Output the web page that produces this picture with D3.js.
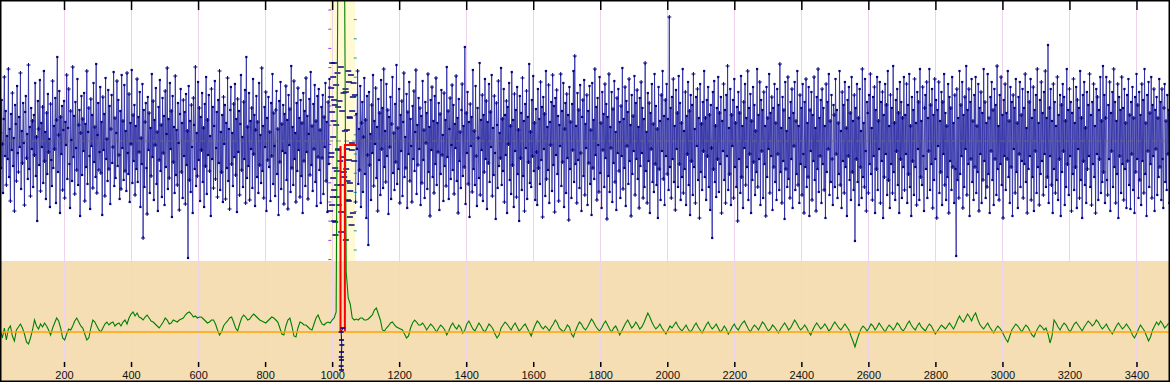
<!DOCTYPE html>
<html><head><meta charset="utf-8">
<script src="https://cdn.jsdelivr.net/npm/d3@7"></script>
<style>html,body{margin:0;padding:0;background:#fff;overflow:hidden}</style>
</head><body><svg id="c" width="1170" height="382"></svg>
<script>
// ---- data ----
const blueStart = 10, blueStep = 2;
const blueValues = [
8,-27,41,-3,-52,22,64,-15,30,-44,5,-18,72,-36,12,-60,27,-9,48,-25,3,-70,36,17,-40,
55,-12,-31,24,-6,68,-48,10,-22,38,-2,-64,29,45,-17,7,-38,76,-28,14,-55,33,-8,20,-46,
26,-14,58,-35,4,-80,40,12,-24,61,-50,18,-6,34,-42,70,-20,9,-58,28,-33,47,-11,2,-66,
37,-19,-45,60,-27,15,-8,43,-62,21,84,-31,6,50,-72,24,-13,35,-49,11,40,-57,19,-4,66,
-38,13,52,-23,-67,30,1,-40,74,-16,25,-53,39,-7,-29,62,-44,16,31,-75,8,45,-34,22,-10,
48,-60,17,-26,70,-43,9,33,-15,-68,42,-5,26,-47,58,-21,14,-36,77,-52,6,38,-29,-11,54,
-32,19,-74,44,-9,27,-55,63,-18,2,-40,51,-28,35,-63,12,46,-22,-6,69,-45,23,-37,8,60,
-25,41,-14,-58,30,-48,66,-7,20,-39,56,-30,10,-50,68,-12,-33,47,-61,18,-3,71,-42,26,-20,
36,-54,15,-28,62,-41,24,-11,49,-66,3,-23,57,-97,31,-46,19,38,-27,-73,44,-9,28,-52,13,
-35,67,-16,40,-59,21,-4,53,-43,9,-70,34,-19,61,-30,16,-56,43,-12,25,-64,50,-26,7,73,
-48,22,-37,58,-8,30,-76,45,-21,14,-52,65,-34,11,-44,38,-2,-69,27,52,-31,18,-57,41,-15,
29,-63,47,-24,10,-117,55,-39,20,-51,36,-6,-72,43,16,-28,74,-45,8,-35,59,-19,33,-60,24,
-9,48,-41,13,-66,37,-25,64,-53,21,-14,46,-30,5,-75,52,-18,34,-47,15,60,-38,-7,29,-56,
41,-22,70,-49,9,-31,26,-61,44,-3,36,-58,18,-27,63,-40,12,-68,31,54,-23,8,-45,37,-16,
57,-34,22,-71,42,-11,30,-54,17,66,-29,4,-46,39,-18,51,-62,84,-37,14,-25,48,-59,20,-8,
33,-47,62,-13,26,-65,11,45,-36,19,-52,58,-24,6,-42,73,-30,15,-57,34,-6,49,-70,23,-19,
44,-26,9,-60,38,-15,67,-43,28,-5,-55,31,50,-33,12,-74,40,-21,59,-48,17,-10,36,-63,27,
-12,55,-39,21,-68,46,-4,32,-51,75,-27,14,-44,60,-18,8,-61,38,-30,53,-9,23,-56,41,-35,
18,-72,48,-20,30,-45,63,-11,25,-58,7,42,-34,69,-24,15,-50,37,-8,56,-41,20,-65,45,-16,
52,-29,11,-62,34,-17,46,-53,24,-6,58,-40,19,-71,39,-23,62,-70,44,-12,78,-56,20,-80,36,
-94,56,-30,68,-8,-64,40,-20,74,-44,30,-16,48,-36,10,52,-28,-8,-40,70,-60,24,-50,66,-84,
30,-72,58,-20,46,-61,27,-8,70,-43,12,-29,55,-66,18,39,-51,4,63,-33,21,-77,45,-14,-104,
49,-24,7,-59,36,-12,66,-45,20,-3,53,-37,14,-70,42,-19,28,-54,61,-8,33,-47,72,-26,10,
-41,57,-15,31,-73,24,-6,44,-58,17,64,-32,8,-49,37,-21,76,-43,13,-28,52,-62,26,-10,40,
-55,19,68,-36,4,-27,47,-67,29,-13,59,-40,22,-5,-61,35,-18,50,-30,9,71,-53,16,-24,43,
-8,33,-64,25,-42,60,-19,11,-57,39,-2,28,-48,67,-31,14,-75,41,-9,54,-36,20,-52,45,-23,
63,-44,18,-11,38,-69,27,-33,51,-14,6,-60,48,-25,21,-45,74,-16,30,-58,12,43,-38,-4,56,
-29,36,-53,17,-7,65,-40,23,-72,42,-20,9,-47,31,57,-35,15,-26,94,-63,28,-12,49,-43,19,
-76,37,-5,24,-51,71,-28,10,-44,55,-15,-65,33,3,-37,78,-54,21,-9,46,-60,26,-31,62,-18,
40,-68,19,-22,57,-41,29,-6,66,-55,13,-34,45,-12,-78,38,16,-47,60,-25,8,-17,73,-44,22,
-30,52,-61,26,-14,40,-72,34,-3,58,-39,15,-53,69,-24,21,-66,47,-10,31,-56,54,-33,11,-80,
45,-17,28,-49,63,-35,20,-70,37,-7,50,-58,24,-21,77,-42,9,-46,41,-15,65,-30,18,-59,32,
-11,-64,52,-27,22,-43,59,-19,34,-76,44,-8,27,-55,70,-38,14,-29,56,-62,19,-4,39,-50,66,
-24,35,-71,43,-14,51,-33,25,-60,16,-5,67,-45,30,-21,58,-66,12,38,-52,47,-17,26,-79,54,
-28,19,-57,37,-9,70,-41,85,-23,15,-62,48,-19,31,-47,56,-12,-70,24,41,-35,61,-54,17,-7,
46,-64,30,-22,55,-43,11,-74,58,-27,21,-38,72,-14,34,-59,43,-4,-51,64,-32,18,-67,49,-9,
27,-46,57,-17,37,-78,24,-35,67,-51,14,-7,49,-61,32,-22,60,-41,9,-69,43,-12,52,-30,19,
-57,35,-15,73,-48,22,-27,54,-65,40,-5,29,-43,62,-20,16,-75,46,-33,25,-10,65,-54,38,-18,
51,-38,14,-67,43,-25,59,-12,33,-57,22,-46,78,-30,9,-62,48,-20,38,-72,28,-8,57,-41,17,
-51,67,-23,35,-44,12,-77,54,-28,20,-59,46,-10,70,-38,25,-64,41,-15,57,-33,22,-49,124,-26,
33,-57,44,-18,62,-41,15,-69,51,-8,28,-46,65,-23,38,-59,18,-36,72,-52,10,-28,49,-64,25,
-13,59,-44,30,-74,46,-20,36,-54,67,-26,12,-62,44,-5,52,-39,23,-77,57,-31,17,-49,39,-10,
70,-36,23,-59,41,-15,54,-46,26,-69,36,-7,-97,49,-28,60,-41,15,-56,33,-18,64,-51,28,-23,
44,-72,20,-10,57,-39,31,-62,46,-15,75,-49,13,-33,52,-64,26,-5,41,-57,62,-26,18,-46,34,
-80,49,-18,28,-52,65,-36,15,-67,39,-7,57,-44,23,-26,70,-59,33,-13,47,-72,20,-39,54,-21,
36,-54,10,-31,72,-46,26,-18,59,-64,41,-10,31,-57,49,-23,15,-75,54,-36,23,-8,67,-52,28,
-15,44,-69,33,-26,57,-41,18,-59,52,-13,36,-49,77,-31,13,-62,44,-20,31,-78,59,-28,10,-46,
64,-38,23,-57,39,-18,52,-67,28,-5,59,-49,20,-33,70,-44,15,-62,46,-23,33,-54,57,-13,-72,
39,-26,62,-46,18,-36,54,-75,31,-10,49,-59,26,-20,64,-39,13,-70,44,-28,72,-51,23,-15,41,
-62,52,-23,33,-49,15,-77,57,-31,39,-8,67,-54,20,-41,46,-18,-64,36,26,-46,62,-13,31,-57,
18,-33,70,-44,10,-67,49,-20,36,-52,59,-26,13,-75,41,-15,54,-39,28,-59,64,-31,20,-49,46,
-100,33,-18,57,-41,23,-64,52,-26,10,-57,72,-36,18,-46,62,-10,-70,39,28,-52,46,-23,67,-33,
13,-59,44,-15,54,-72,31,-28,64,-49,20,-8,59,-62,39,-20,49,-77,26,-36,57,-13,36,-54,70,
-39,15,-67,46,-23,33,-52,75,-31,18,-59,41,-10,52,-44,28,-72,59,-18,39,-57,23,-26,64,-49,
26,-13,57,-62,36,-33,67,-46,15,-75,44,-20,31,-54,62,-26,18,-64,49,-8,39,-59,72,-36,20,
-44,54,-15,-70,33,46,-28,59,-57,23,-10,72,-49,36,-23,52,-67,26,-39,62,-18,41,-77,31,-5,
59,-52,20,-31,49,-64,39,-13,67,-44,28,-59,15,-36,57,-72,44,-20,33,-49,64,-26,18,-62,46,
-28,-115,52,-39,23,-57,70,-33,36,-15,59,-67,26,-46,44,-8,75,-54,31,-23,52,-75,39,-18,62,
-41,20,-59,46,-26,64,-52,15,-31,57,-70,33,-13,49,-62,28,-39,72,-20,39,-57,18,-46,67,-33,
23,-72,44,-10,59,-39,31,-64,52,-18,36,-54,75,-28,15,-59,46,-23,64,-44,26,-77,41,-15,57,
-49,28,-18,70,-36,20,-62,54,-26,39,-75,46,-8,33,-52,62,-31,18,-67,44,-13,59,-46,26,-20,
52,-57,33,-23,67,-41,13,-72,49,-28,39,-15,62,-59,23,-36,54,-70,31,-10,46,-52,72,-26,18,
-64,41,-33,59,-20,28,-54,49,-13,70,-46,23,-36,96,-62,33,-15,52,-44,20,-72,57,-28,39,-52,
15,-39,64,-59,26,-18,46,-75,36,-31,57,-10,44,-64,20,-46,72,-23,31,-54,52,-15,39,-70,28,
-33,62,-49,18,-26,54,-67,41,-8,33,-57,70,-39,23,-77,46,-20,59,-44,13,-62,49,-28,36,-15,
67,-46,26,-64,39,-23,57,-36,15,-72,52,-13,44,-59,31,-18,64,-52,20,-41,75,-31,46,-62,23,
64,-39,-54,36,-18,59,-70,28,-10,49,-46,72,-26,39,-62,20,-33,57,-77,44,-15,31,-52,64,-23,
33,-59,52,-28,18,-67,46,-20,62,-44,26,-68,39,-13,54,-49,23,-72,44,-31,67,-18,36,-57,49,
-39,26,-64,57,-20,41,-52,72,-33,18,-75,46,-10,59,-46,28,-23,64,-57,36,-15,52,-70,31,-8,
44,-54,23,-36,62,-26,39,-59,52,-18,-67,33,57,-41,20,-49,46,-13,31,-62,26,-44,54,-23,39
];
const greenStart = 10, greenStep = 6;
const greenValues = [
2,-6,4,-8,3,6,-4,-9,2,5,8,4,-2,-10,-12,-6,2,12,6,3,
8,5,9,6,2,-3,4,9,14,11,4,-6,-8,-2,3,2,6,11,14,10,
6,4,-2,-8,-6,4,12,10,6,2,0,4,8,10,7,9,10,6,8,9,
6,10,12,8,14,18,20,16,19,15,14,12,15,17,14,11,10,8,6,4,
7,10,14,12,8,9,12,11,10,12,13,14,17,19,20,18,15,16,14,15,
15,13,11,9,10,12,12,8,2,-3,0,6,9,11,14,15,10,4,1,8,
14,17,15,12,13,16,18,16,14,12,11,10,9,11,13,15,14,12,10,4,
-2,-3,6,12,14,6,-4,-5,4,10,9,7,7,5,3,2,8,14,17,12,
8,7,9,10,9,12,14,20,420,420,420,420,60,34,28,14,12,13,12,14,
14,12,12,13,15,17,22,24,18,12,2,1,4,6,9,10,7,5,4,3,
2,-2,-6,-4,4,9,12,10,7,7,9,6,2,5,8,6,3,0,4,7,
5,2,-3,1,6,9,5,3,7,4,-1,2,8,11,7,3,1,5,9,6,
2,0,4,8,6,3,-2,-6,-3,4,7,10,8,5,2,6,9,5,1,3,
6,8,4,0,-4,2,7,11,9,5,3,6,4,1,5,8,12,9,4,2,
0,3,7,5,-2,-5,1,6,10,8,4,2,5,9,13,10,6,3,1,4,
8,11,7,3,0,4,6,2,-3,1,5,9,12,8,4,6,10,7,3,5,
9,14,19,15,10,6,3,5,8,4,1,-2,2,6,4,7,10,6,3,1,
4,7,3,0,2,6,9,5,2,-1,3,7,10,6,3,5,8,4,0,2,
6,3,-2,1,5,8,4,2,6,9,11,7,3,0,4,7,5,2,6,10,
8,4,1,3,7,5,2,-1,3,6,9,6,2,4,8,12,9,5,2,4,
7,4,0,-3,2,6,9,6,3,5,8,5,1,3,7,10,7,4,2,5,
8,5,2,-4,-9,-15,-8,-2,3,6,4,1,4,8,6,2,5,9,6,3,
0,4,7,5,2,5,9,7,3,1,4,8,11,7,4,2,6,9,5,3,
1,5,8,6,2,-2,1,4,7,5,3,6,9,6,3,7,12,16,12,10,
14,18,15,11,16,19,13,8,5,3,6,9,5,2,-1,3,6,4,1,-3,
-7,-10,-4,2,5,8,6,3,0,4,7,5,1,-3,-5,0,4,7,5,2,
4,-2,-11,-4,12,9,5,2,6,9,7,3,0,4,8,10,7,4,1,5,
8,11,9,6,8,12,10,6,3,5,8,4,1,-2,2,6,9,6,3,5,
8,5,2,-3,-6,-2,3,7,4,1,-4,-9,-5,2,6,10,7,11,8,4,6,9
];
const tickLabels = ["200","400","600","800","1000","1200","1400","1600","1800","2000","2200","2400","2600","2800","3000","3200","3400"];
const bandRange = [993, 1069];
const bandDashX = [1006,1003,1050,1062,1006,1018,1000,1053,1012,1044,1003,1059,1018,997,1050,1009,1035,1003,1053,1006,1015,1047,1000,1027,1053,1009,1027,1041,997,1041,1059,1015];
const bandDashV = [78,64,59,44,41,34,29,23,16,11,4,-2,-9,-16,-19,-27,-31,-37,-42,-49,-56,-59,-64,-71,-76,-81,-91,-99,53,49,-9,-44];
const spikeBlueX = [1032,1027,1028,1029,1028,1027,1028,1027,1028];
const spikeBlueV = [4,0,-8,-13,-20,-25,-28,-34,-38];
const redX = [1025,1025,null,1038,1038,1073];
const redV = [0,186,null,0,187,187];
const meanValue = 0, baselineValue = 0;

// ---- drawing ----
const W = 1170, H = 382, splitY = 261;
const svg = d3.select("#c");
const x = d3.scaleLinear().domain([9, 3500]).range([0, W]);
const yTop = d3.scaleLinear().domain([-120, 141]).range([splitY, 0]);
const yBot = d3.scaleLinear().domain([-49, 71]).range([381, splitY]);

svg.append("rect").attr("width", W).attr("height", splitY).attr("fill", "#fff");
svg.append("rect").attr("y", splitY).attr("width", W).attr("height", H - splitY).attr("fill", "#f5deb3");
svg.append("rect").attr("x", x(bandRange[0])).attr("y", 0)
  .attr("width", x(bandRange[1]) - x(bandRange[0])).attr("height", splitY).attr("fill", "#fffad2");

const tickVals = tickLabels.map(Number);
svg.append("g").selectAll("line").data(tickVals).join("line")
  .attr("x1", d => Math.round(x(d)) + 0.5).attr("x2", d => Math.round(x(d)) + 0.5)
  .attr("y1", 0).attr("y2", H).attr("stroke", "#edd3ec").attr("stroke-width", 1);

// band edge markers
const edgeY = d3.range(10, splitY, 19.2);
svg.append("g").selectAll("line").data(edgeY).join("line")
  .attr("x1", x(bandRange[0]) - 1.5).attr("x2", x(bandRange[0]) + 1.5)
  .attr("y1", d => d).attr("y2", d => d).attr("stroke", "#9040e0").attr("stroke-width", 1);
svg.append("g").selectAll("line").data(edgeY.map(d => d + 9.6).filter(d => d < splitY)).join("line")
  .attr("x1", x(bandRange[1]) - 1.5).attr("x2", x(bandRange[1]) + 1.5)
  .attr("y1", d => d).attr("y2", d => d).attr("stroke", "#119999").attr("stroke-width", 1);

// blue series
const blue = blueValues.map((v, i) => ({x: blueStart + i * blueStep, v}));
const inBand = d => d.x >= bandRange[0] && d.x <= bandRange[1];
const blueLine = d3.line().defined(d => !inBand(d)).x(d => x(d.x)).y(d => yTop(d.v));
svg.append("path").datum(blue).attr("d", blueLine).attr("fill", "none")
  .attr("stroke", "#2a2aa4").attr("stroke-width", 0.85);

// mean dashed line
svg.append("line").attr("x1", 0).attr("x2", W).attr("y1", yTop(meanValue)).attr("y2", yTop(meanValue))
  .attr("stroke", "#6e6e6e").attr("stroke-dasharray", "5,3").attr("stroke-width", 1).attr("opacity", 0.8);

const outPts = blue.filter(d => !inBand(d));
svg.append("g").selectAll("rect").data(outPts.filter((d, i) => i % 3 !== 0)).join("rect")
  .attr("x", d => x(d.x) - 1.1).attr("y", d => yTop(d.v) - 1.1).attr("width", 2.2).attr("height", 2.2)
  .attr("fill", "#000080");
svg.append("g").selectAll("path").data(outPts.filter((d, i) => i % 3 === 0)).join("path")
  .attr("d", d => `M${x(d.x) - 2},${yTop(d.v)}H${x(d.x) + 2}M${x(d.x)},${yTop(d.v) - 2}V${yTop(d.v) + 2}`)
  .attr("stroke", "#000080").attr("stroke-width", 1);

// band dashes
const bandPts = blue.filter(inBand).concat(bandDashX.map((bx, i) => ({x: bx, v: bandDashV[i]})));
svg.append("g").selectAll("line").data(bandPts).join("line")
  .attr("x1", d => x(d.x) - 3).attr("x2", d => x(d.x) + 3)
  .attr("y1", d => yTop(d.v)).attr("y2", d => yTop(d.v))
  .attr("stroke", "#000080").attr("stroke-width", 1.5);

// green series
const green = greenValues.map((v, i) => ({x: greenStart + i * greenStep, v}));
svg.append("path").datum(green)
  .attr("d", d3.line().x(d => x(d.x)).y(d => yBot(d.v)))
  .attr("fill", "none").attr("stroke", "#008000").attr("stroke-width", 1.1);

// red series
const red = redX.map((rx, i) => ({x: rx, v: redV[i]}));
svg.append("path").datum(red)
  .attr("d", d3.line().defined(d => d.x != null).x(d => x(d.x)).y(d => yBot(d.v)))
  .attr("fill", "none").attr("stroke", "#ff0000").attr("stroke-width", 2);

// baseline
svg.append("line").attr("x1", 0).attr("x2", W).attr("y1", yBot(baselineValue)).attr("y2", yBot(baselineValue))
  .attr("stroke", "#ffa500").attr("stroke-width", 1.6);

// spike blue in lower panel
const spike = spikeBlueX.map((sx, i) => ({x: sx, v: spikeBlueV[i]}));
svg.append("path").datum(spike)
  .attr("d", d3.line().x(d => x(d.x)).y(d => yBot(d.v)))
  .attr("fill", "none").attr("stroke", "#000080").attr("stroke-width", 1);
svg.append("g").selectAll("line").data(spike).join("line")
  .attr("x1", d => x(d.x) - 2.5).attr("x2", d => x(d.x) + 2.5)
  .attr("y1", d => yBot(d.v)).attr("y2", d => yBot(d.v))
  .attr("stroke", "#000080").attr("stroke-width", 1.6);

// axes
const axTop = svg.append("g").call(d3.axisTop(x).tickValues(tickVals).tickSize(-10).tickFormat(""));
axTop.select(".domain").remove();
axTop.selectAll("line").attr("stroke", "#000").attr("stroke-width", 1.5);
const axBot = svg.append("g").attr("transform", `translate(0,362)`)
  .call(d3.axisBottom(x).tickValues(tickVals).tickSize(5).tickPadding(4).tickFormat((d, i) => tickLabels[i]));
axBot.select(".domain").remove();
axBot.selectAll("line").attr("stroke", "#000").attr("stroke-width", 1.5);
axBot.selectAll("text").attr("font-family", "Liberation Sans, Arial, sans-serif")
  .attr("font-size", "11px").attr("fill", "#111");

// border
svg.append("rect").attr("x", 0.75).attr("y", 0.75).attr("width", W - 1.5).attr("height", H - 1.5)
  .attr("fill", "none").attr("stroke", "#000").attr("stroke-width", 1.5);
</script></body></html>
